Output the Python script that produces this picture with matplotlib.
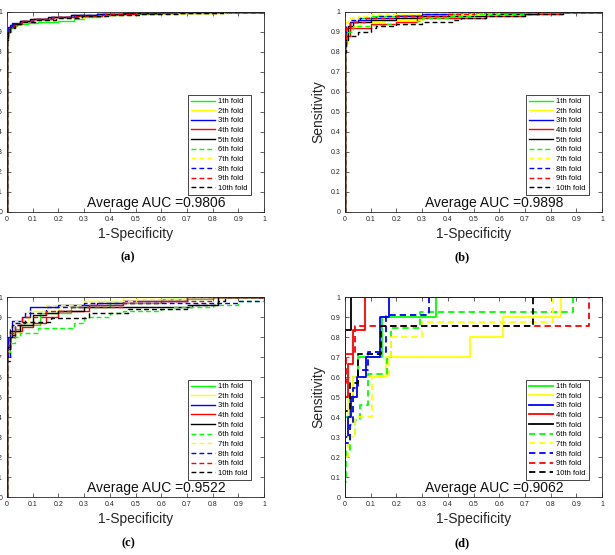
import numpy as np
import matplotlib
matplotlib.use("Agg")
import matplotlib.pyplot as plt

plt.rcParams['font.family'] = ['Liberation Sans', 'DejaVu Sans']

fold_labels = [f"{i}th fold" for i in range(1, 11)]
fold_colors = ['#00ff00', '#ffff00', '#0000ff', '#ff0000', '#000000'] * 2
fold_styles = ['-'] * 5 + ['--'] * 5
tick_values = [0, 0.1, 0.2, 0.3, 0.4, 0.5, 0.6, 0.7, 0.8, 0.9, 1]
tick_labels = ['0', '0.1', '0.2', '0.3', '0.4', '0.5', '0.6', '0.7', '0.8', '0.9', '1']

# ---- panel (a): (fpr step positions, tpr levels) per fold ----
a_fpr = [
    [0, 0, 0.005, 0.01, 0.02, 0.04, 0.08, 0.12, 0.2, 0.26, 0.3, 0.36, 0.45, 0.6, 0.8, 1],
    [0, 0, 0.005, 0.01, 0.03, 0.06, 0.1, 0.18, 0.28, 0.36, 0.48, 0.62, 0.82, 1],
    [0, 0, 0.003, 0.01, 0.02, 0.05, 0.1, 0.17, 0.25, 0.35, 0.45, 0.6, 0.75, 1],
    [0, 0, 0.005, 0.01, 0.03, 0.06, 0.1, 0.18, 0.27, 0.37, 0.5, 0.65, 0.8, 1],
    [0, 0, 0.005, 0.012, 0.025, 0.05, 0.09, 0.16, 0.25, 0.35, 0.46, 0.6, 0.78, 1],
    [0, 0, 0.005, 0.015, 0.03, 0.06, 0.11, 0.19, 0.28, 0.38, 0.5, 0.66, 0.85, 1],
    [0, 0, 0.006, 0.012, 0.03, 0.06, 0.1, 0.2, 0.3, 0.4, 0.52, 0.68, 0.86, 1],
    [0, 0, 0.004, 0.01, 0.02, 0.05, 0.1, 0.17, 0.26, 0.35, 0.47, 0.6, 0.8, 1],
    [0, 0, 0.005, 0.012, 0.028, 0.055, 0.1, 0.18, 0.28, 0.38, 0.5, 0.64, 0.82, 1],
    [0, 0, 0.005, 0.013, 0.03, 0.06, 0.11, 0.19, 0.29, 0.4, 0.52, 0.67, 0.84, 1],
]
a_tpr = [
    [0, 0.87, 0.9, 0.92, 0.93, 0.94, 0.945, 0.95, 0.955, 0.965, 0.975, 0.985, 0.99, 0.995, 1, 1],
    [0, 0.88, 0.91, 0.93, 0.945, 0.955, 0.965, 0.975, 0.982, 0.988, 0.993, 0.997, 1, 1],
    [0, 0.9, 0.925, 0.935, 0.945, 0.955, 0.965, 0.975, 0.983, 0.99, 0.995, 0.998, 1, 1],
    [0, 0.88, 0.9, 0.925, 0.94, 0.955, 0.965, 0.975, 0.982, 0.99, 0.995, 0.998, 1, 1],
    [0, 0.86, 0.9, 0.925, 0.94, 0.955, 0.966, 0.976, 0.984, 0.99, 0.995, 0.998, 1, 1],
    [0, 0.87, 0.9, 0.925, 0.94, 0.952, 0.962, 0.972, 0.98, 0.988, 0.993, 0.997, 1, 1],
    [0, 0.87, 0.9, 0.92, 0.935, 0.95, 0.96, 0.97, 0.978, 0.986, 0.992, 0.996, 1, 1],
    [0, 0.89, 0.915, 0.93, 0.942, 0.955, 0.966, 0.976, 0.984, 0.99, 0.995, 0.998, 1, 1],
    [0, 0.88, 0.905, 0.925, 0.94, 0.953, 0.963, 0.973, 0.981, 0.988, 0.993, 0.997, 1, 1],
    [0, 0.87, 0.9, 0.92, 0.938, 0.952, 0.962, 0.972, 0.98, 0.987, 0.992, 0.996, 1, 1],
]

# ---- panel (b) ----
b_fpr = [
    [0, 0, 0.02, 0.05, 0.1, 0.2, 0.3, 0.45, 0.7, 1],
    [0, 0, 0.01, 0.02, 0.06, 0.15, 0.3, 0.45, 0.7, 1],
    [0, 0, 0.005, 0.02, 0.05, 0.1, 0.2, 0.3, 0.4, 1],
    [0, 0, 0.005, 0.02, 0.1, 0.2, 0.28, 0.55, 0.7, 0.85, 1],
    [0, 0, 0.005, 0.01, 0.03, 0.1, 0.2, 0.28, 0.55, 0.75, 1],
    [0, 0, 0.005, 0.03, 0.1, 0.15, 0.28, 0.3, 0.4, 0.5, 0.7, 1],
    [0, 0, 0.003, 0.01, 0.05, 0.1, 0.3, 0.6, 0.9, 1],
    [0, 0, 0.005, 0.02, 0.06, 0.12, 0.3, 0.45, 1],
    [0, 0, 0.005, 0.02, 0.08, 0.2, 0.4, 0.5, 1],
    [0, 0, 0.005, 0.01, 0.05, 0.1, 0.12, 0.2, 0.3, 0.42, 0.45, 0.55, 0.7, 0.85, 1],
]
b_tpr = [
    [0, 0.9, 0.95, 0.97, 0.98, 0.985, 0.99, 0.995, 1, 1],
    [0, 0.85, 0.9, 0.93, 0.95, 0.96, 0.975, 0.99, 1, 1],
    [0, 0.88, 0.92, 0.95, 0.96, 0.97, 0.98, 0.99, 1, 1],
    [0, 0.83, 0.88, 0.92, 0.94, 0.95, 0.97, 0.98, 0.99, 1, 1],
    [0, 0.84, 0.88, 0.93, 0.95, 0.96, 0.97, 0.98, 0.99, 1, 1],
    [0, 0.86, 0.9, 0.93, 0.935, 0.94, 0.955, 0.97, 0.98, 0.99, 1, 1],
    [0, 0.9, 0.95, 0.97, 0.98, 0.99, 0.995, 0.998, 1, 1],
    [0, 0.88, 0.93, 0.96, 0.97, 0.98, 0.99, 1, 1],
    [0, 0.86, 0.92, 0.95, 0.97, 0.98, 0.99, 1, 1],
    [0, 0.8, 0.86, 0.88, 0.9, 0.92, 0.93, 0.94, 0.95, 0.96, 0.97, 0.98, 0.99, 1, 1],
]

# ---- panel (c) ----
c_fpr = [
    [0, 0, 0.01, 0.03, 0.05, 0.13, 0.25, 0.4, 0.6, 0.8, 1],
    [0, 0, 0.01, 0.05, 0.1, 0.2, 0.3, 0.45, 1],
    [0, 0, 0.005, 0.01, 0.02, 0.06, 0.09, 0.2, 0.35, 0.45, 0.7, 1],
    [0, 0, 0.01, 0.03, 0.06, 0.1, 0.15, 0.2, 0.32, 0.45, 0.7, 1],
    [0, 0, 0.01, 0.02, 0.05, 0.1, 0.15, 0.2, 0.3, 0.72, 0.82, 1],
    [0, 0, 0.01, 0.03, 0.05, 0.12, 0.26, 0.3, 0.4, 0.45, 0.6, 0.65, 0.8, 0.9, 1],
    [0, 0, 0.01, 0.03, 0.08, 0.15, 0.3, 0.5, 0.7, 0.85, 1],
    [0, 0, 0.01, 0.03, 0.07, 0.15, 0.3, 0.45, 0.9, 0.98, 1],
    [0, 0, 0.01, 0.03, 0.06, 0.15, 0.25, 0.45, 0.6, 0.8, 0.9, 1],
    [0, 0, 0.01, 0.02, 0.06, 0.17, 0.32, 0.47, 0.7, 0.82, 0.85, 1],
]
c_tpr = [
    [0, 0.72, 0.8, 0.84, 0.86, 0.92, 0.95, 0.97, 0.99, 1, 1],
    [0, 0.75, 0.82, 0.87, 0.93, 0.96, 0.98, 1, 1],
    [0, 0.7, 0.8, 0.83, 0.88, 0.9, 0.95, 0.96, 0.97, 0.98, 1, 1],
    [0, 0.74, 0.8, 0.83, 0.85, 0.87, 0.9, 0.93, 0.96, 0.98, 1, 1],
    [0, 0.75, 0.8, 0.83, 0.86, 0.91, 0.92, 0.93, 0.95, 0.96, 1, 1],
    [0, 0.7, 0.77, 0.8, 0.82, 0.845, 0.87, 0.9, 0.92, 0.93, 0.94, 0.95, 0.96, 0.98, 1],
    [0, 0.73, 0.82, 0.88, 0.93, 0.96, 0.98, 0.99, 1, 1, 1],
    [0, 0.68, 0.81, 0.87, 0.92, 0.95, 0.97, 0.97, 0.98, 1, 1],
    [0, 0.76, 0.82, 0.86, 0.9, 0.93, 0.95, 0.97, 0.98, 1, 1, 1],
    [0, 0.74, 0.84, 0.86, 0.873, 0.895, 0.92, 0.94, 0.96, 0.98, 1, 1],
]

# ---- panel (d) ----
d_fpr = [
    [0, 0, 0.02, 0.03, 0.05, 0.145, 0.355, 1],
    [0, 0, 0.01, 0.03, 0.16, 0.485, 0.615, 0.842, 1],
    [0, 0, 0.01, 0.025, 0.045, 0.08, 0.135, 0.17, 1],
    [0, 0, 0.01, 0.03, 0.077, 1],
    [0, 0, 0.025, 1],
    [0, 0, 0.005, 0.02, 0.04, 0.06, 0.09, 0.165, 0.18, 0.29, 0.887, 1],
    [0, 0, 0.01, 0.04, 0.105, 0.17, 0.18, 0.3, 0.81, 1],
    [0, 0, 0.02, 0.03, 0.05, 0.09, 0.16, 0.325, 1],
    [0, 0, 0.005, 0.04, 0.949, 1],
    [0, 0, 0.02, 0.05, 0.14, 0.73, 1],
]
d_tpr = [
    [0, 0.4, 0.5, 0.6, 0.7, 0.9, 1, 1],
    [0, 0.3, 0.5, 0.6, 0.7, 0.8, 0.9, 1, 1],
    [0, 0.3, 0.4, 0.5, 0.6, 0.7, 0.9, 1, 1],
    [0, 0.5, 0.667, 0.833, 1, 1],
    [0, 0.833, 1, 1],
    [0, 0.077, 0.23, 0.308, 0.385, 0.46, 0.615, 0.692, 0.846, 0.923, 1, 1],
    [0, 0.2, 0.3, 0.4, 0.6, 0.7, 0.8, 0.875, 1, 1],
    [0, 0.27, 0.36, 0.545, 0.636, 0.727, 0.909, 1, 1],
    [0, 0.57, 0.714, 0.857, 1, 1],
    [0, 0.43, 0.57, 0.714, 0.857, 1, 1],
]

auc_texts = ["Average AUC =0.9806", "Average AUC =0.9898",
             "Average AUC =0.9522", "Average AUC =0.9062"]
panel_letters = ["(a)", "(b)", "(c)", "(d)"]

W, H = 615, 555
fig = plt.figure(figsize=(W / 100, H / 100), dpi=100)

boxes = [(7, 12), (345, 12), (7, 297), (345, 297)]
aw, ah = 257, 200
letter_pos = [(128, 257), (462, 257), (128, 543), (462, 543)]
panels = [(a_fpr, a_tpr, 1.0), (b_fpr, b_tpr, 1.0), (c_fpr, c_tpr, 1.0), (d_fpr, d_tpr, 1.3)]
axcol = '#262626'

for k in range(4):
    x0, y0 = boxes[k]
    ax = fig.add_axes([x0 / W, 1 - (y0 + ah) / H, aw / W, ah / H])
    fprs, tprs, lw = panels[k]
    for i in range(10):
        kw = dict(color=fold_colors[i], lw=lw, drawstyle='steps-post', label=fold_labels[i])
        if fold_styles[i] == '--':
            kw['dashes'] = (3.5, 2.2)
        ax.plot(fprs[i], tprs[i], **kw)
    ax.set_xlim(0, 1)
    ax.set_ylim(0, 1)
    ax.set_xticks(tick_values)
    ax.set_xticklabels(tick_labels)
    ax.set_yticks(tick_values)
    ax.set_yticklabels(tick_labels)
    ax.tick_params(direction='in', top=True, right=True, length=3, width=0.5,
                   labelsize=5, colors=axcol, pad=3)
    for s in ax.spines.values():
        s.set_color(axcol)
        s.set_linewidth(0.6)
    ax.set_xlabel("1-Specificity", fontsize=10, color=axcol, labelpad=3)
    if k in (1, 3):
        ax.set_ylabel("Sensitivity", fontsize=10, color=axcol, labelpad=4)
    ax.text(0.58, 0.045, auc_texts[k], transform=ax.transAxes, fontsize=10,
            ha='center', va='center', color='#111111')
    leg = ax.legend(loc='lower right', bbox_to_anchor=(0.948, 0.085), fontsize=5.5,
                    frameon=True, fancybox=False, edgecolor=axcol, framealpha=1,
                    handlelength=3.2, handletextpad=0.35, labelspacing=0.3,
                    borderpad=0.4, borderaxespad=0)
    leg.get_frame().set_linewidth(0.6)
    lx, ly = letter_pos[k]
    fig.text(lx / W, 1 - ly / H, panel_letters[k], fontsize=9, fontweight='bold',
             family='Liberation Serif', ha='center', va='center')

fig.savefig("out.png", dpi=100)
